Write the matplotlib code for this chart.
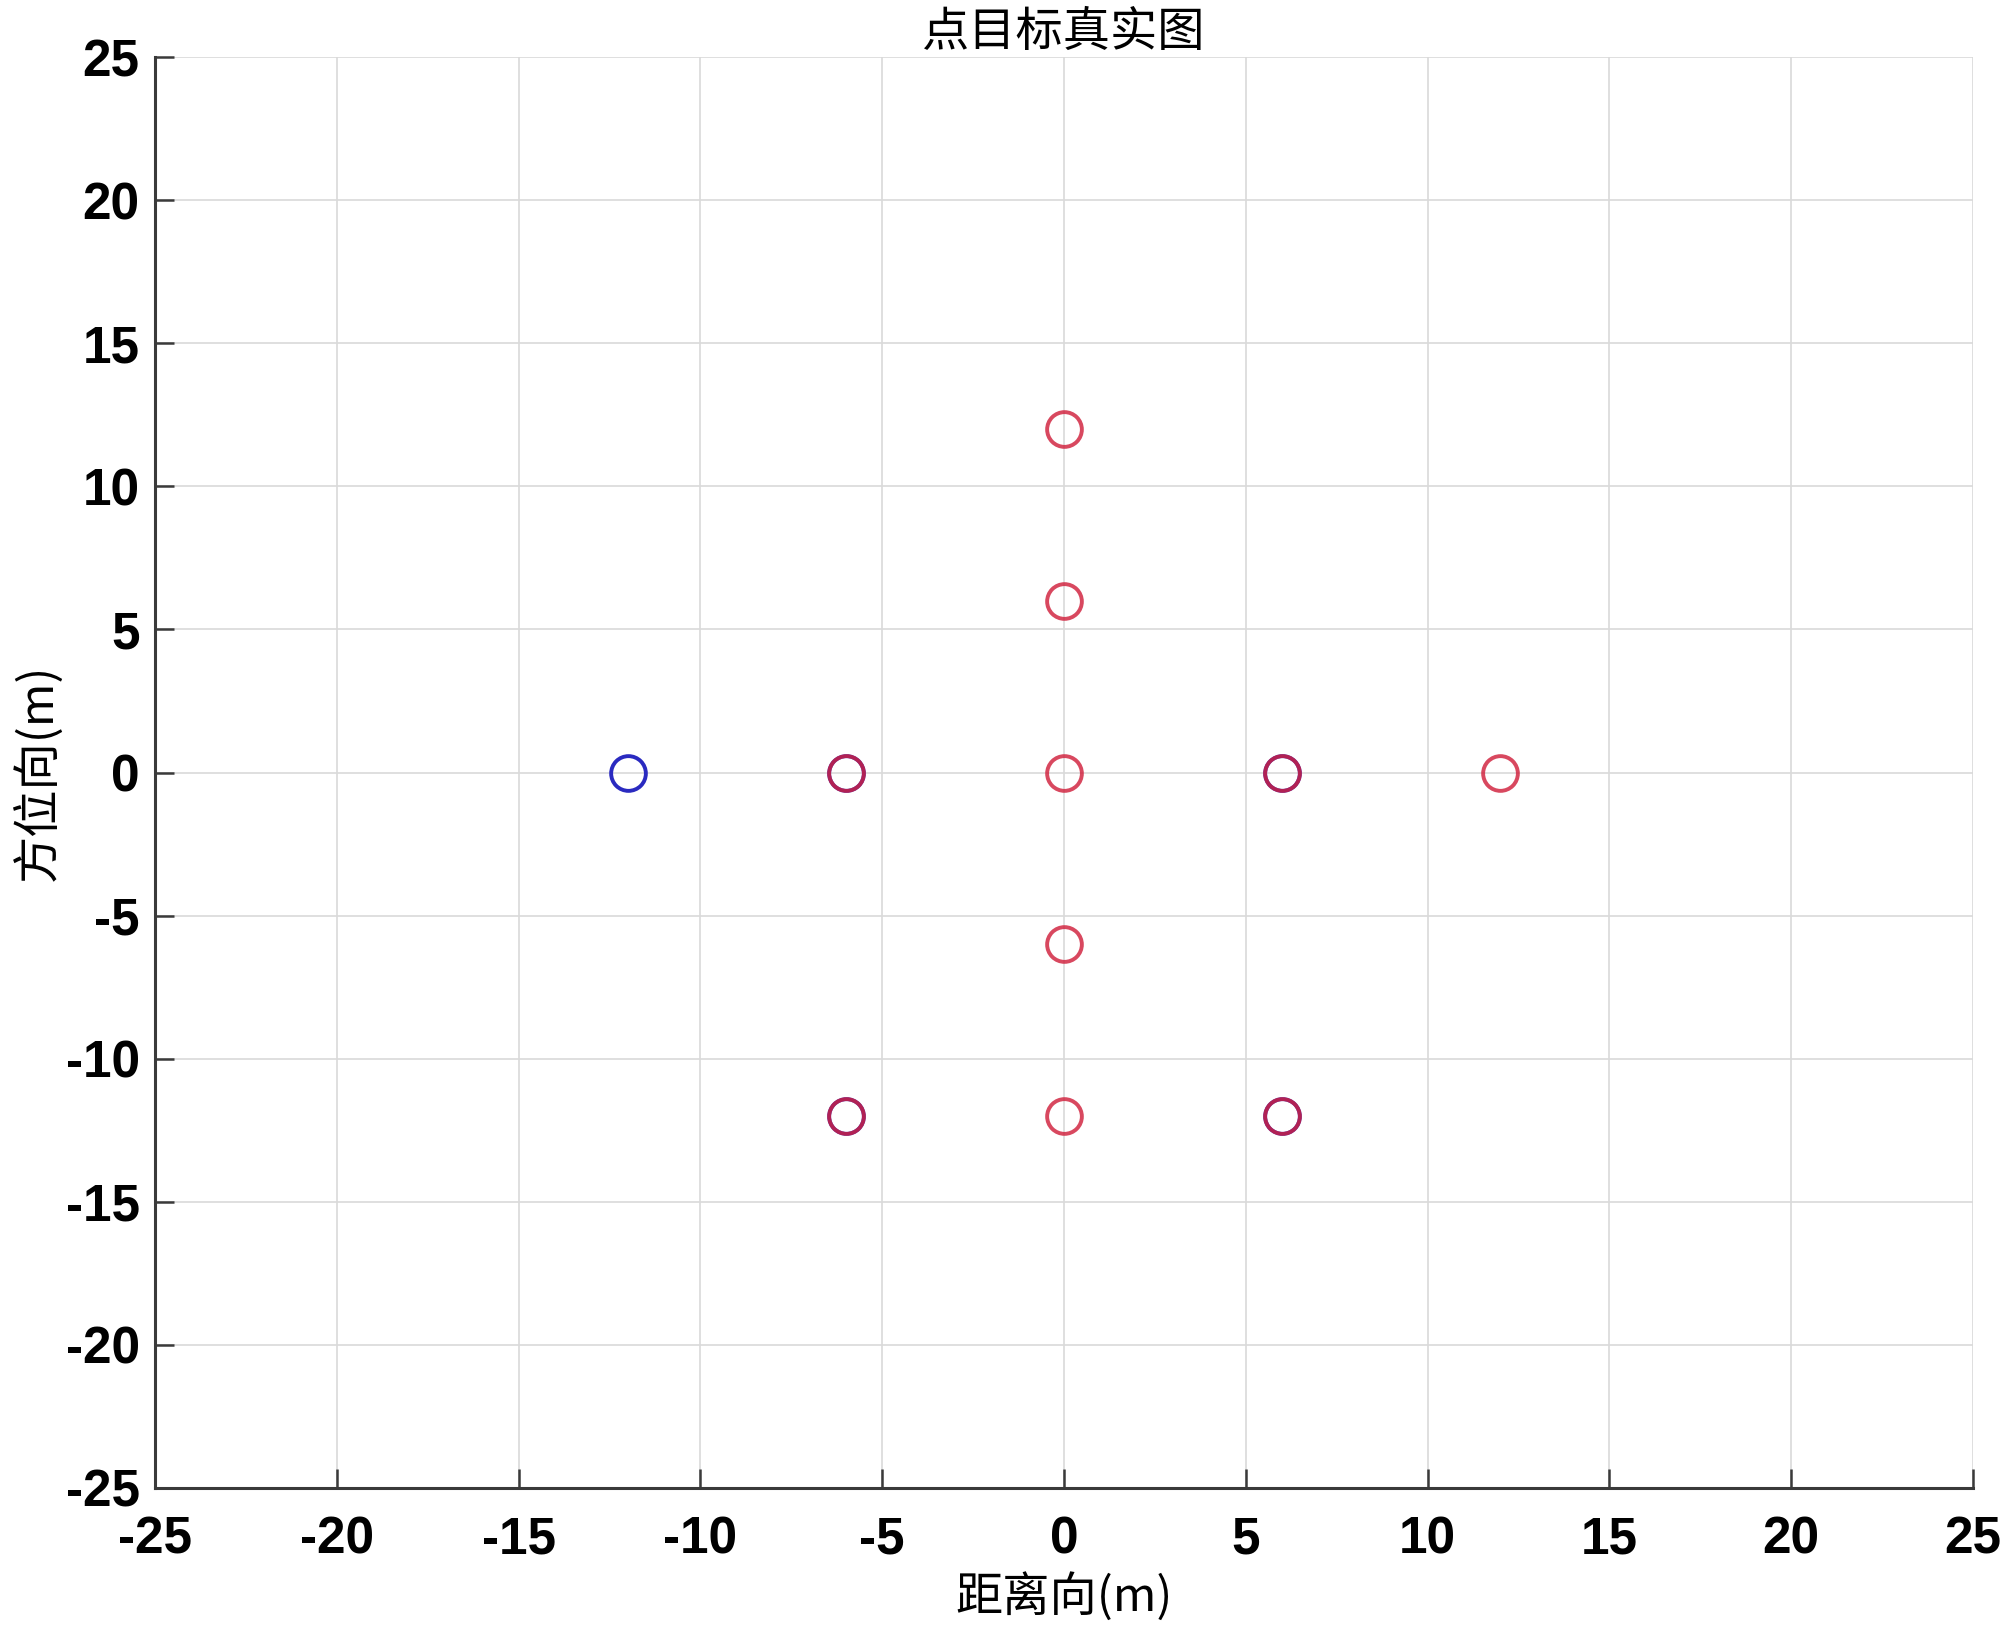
import matplotlib
matplotlib.use("Agg")
import matplotlib.pyplot as plt

# true target positions (blue) and imaged positions (red)
blue_x = [-12, -6, 6, -6, 6]
blue_y = [0, 0, 0, -12, -12]
red_x = [0, 0, -6, 0, 6, 12, 0, -6, 0, 6]
red_y = [12, 6, 0, 0, 0, 0, -6, -12, -12, -12]

ticks = [-25, -20, -15, -10, -5, 0, 5, 10, 15, 20, 25]

TITLE = "点目标真实图"
XLABEL = "距离向(m)"
YLABEL = "方位向(m)"

CJK = ["Noto Sans CJK SC", "DejaVu Sans"]
AXIS_COLOR = "#3a3a3a"

plt.rcParams["axes.unicode_minus"] = False

fig = plt.figure(figsize=(20, 16.35), dpi=100)
ax = fig.add_axes([0.0775, 0.090, 0.909, 0.875])

ax.plot(blue_x, blue_y, "o", markersize=25, markerfacecolor="none",
        markeredgecolor="#2a2ac0", markeredgewidth=2.8, zorder=3)
ax.plot(red_x, red_y, "o", markersize=25, markerfacecolor="none",
        markeredgecolor="#d0203c", markeredgewidth=2.8, alpha=0.82, zorder=4)

ax.set_xlim(-25, 25)
ax.set_ylim(-25, 25)
ax.set_xticks(ticks)
ax.set_yticks(ticks)
ax.grid(True, color="#d9d9d9", linewidth=1.2)
ax.set_axisbelow(True)

for side in ("top", "right"):
    ax.spines[side].set_visible(False)
for side in ("left", "bottom"):
    ax.spines[side].set_color(AXIS_COLOR)
    ax.spines[side].set_linewidth(2.2)

ax.tick_params(axis="both", direction="in", length=14, width=1.8,
               color=AXIS_COLOR, labelsize=37, labelcolor="black")
ax.tick_params(axis="x", pad=20)
ax.tick_params(axis="y", pad=11)
for lab in ax.get_xticklabels() + ax.get_yticklabels():
    lab.set_family("Liberation Sans")
    lab.set_fontweight("bold")

ax.set_title(TITLE, family=CJK, fontsize=34, pad=8)
ax.set_xlabel(XLABEL, family=CJK, fontsize=34, labelpad=6)
ax.set_ylabel(YLABEL, family=CJK, fontsize=34, labelpad=2)

fig.savefig("out.png", dpi=100, facecolor="white")
